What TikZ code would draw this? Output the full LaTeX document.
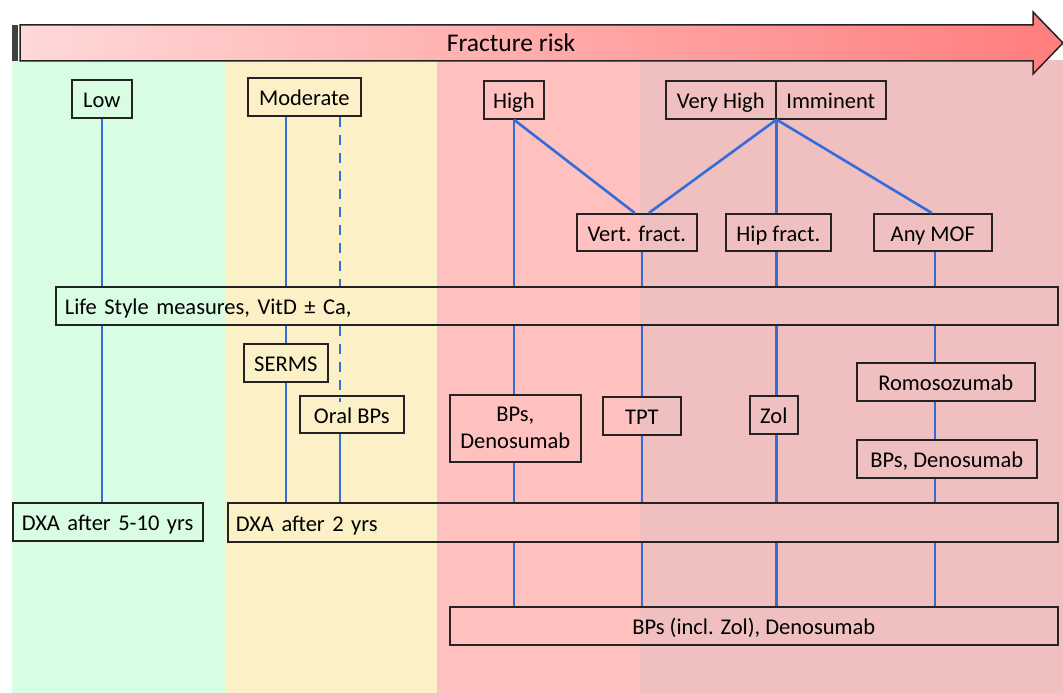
\documentclass[tikz,border=0pt]{standalone}
\usepackage{fontspec}
\setmainfont{Carlito}
\definecolor{bggreen}{RGB}{217,253,226}
\definecolor{bgyellow}{RGB}{251,240,198}
\definecolor{bgpink}{RGB}{255,192,192}
\definecolor{bgrose}{RGB}{240,192,192}
\definecolor{lineblue}{RGB}{52,108,218}
\definecolor{boxline}{RGB}{35,35,35}
\definecolor{arrowleft}{RGB}{255,216,216}
\definecolor{arrowright}{RGB}{255,125,125}
\tikzset{
  box/.style={draw=boxline, line width=1.6pt, inner sep=0pt, anchor=north west,
    font=\fontsize{22.5}{25}\selectfont, align=center, text height=19pt, text depth=1pt},
  leftbox/.style={box, align=left, inner xsep=9pt},
  conn/.style={draw=lineblue, line width=2.6pt},
  dconn/.style={conn, dash pattern=on 10pt off 8pt},
}
\begin{document}
\begin{tikzpicture}[x=1pt,y=-1pt]
\useasboundingbox (0,0) rectangle (1063,693);
% backgrounds
\fill[white] (0,0) rectangle (1063,693);
\fill[bggreen] (12,60) rectangle (225,693);
\fill[bgyellow] (225,60) rectangle (437,693);
\fill[bgpink] (437,60) rectangle (640,693);
\fill[bgrose] (640,60) rectangle (1063,693);
% arrow
\fill[black!75] (12,25) rectangle (18,61);
\shade[left color=arrowleft, right color=arrowright]
  (20,25) -- (1033,25) -- (1033,12) -- (1063,43) -- (1033,74) -- (1033,61) -- (20,61) -- cycle;
\draw[boxline, line width=1.5pt, line join=miter]
  (20,25) -- (1033,25) -- (1033,12) -- (1063,43) -- (1033,74) -- (1033,61) -- (20,61) -- cycle;
\node[font=\fontsize{25.5}{28}\selectfont] (title) at (511,43) {Fracture risk};
% boxes
\node[box, minimum width=60, minimum height=38] (low) at (71,79) {Low};
\node[box, minimum width=113, minimum height=38] (mod) at (247,77) {Moderate};
\node[box, minimum width=60, minimum height=38] (high) at (483,80) {High};
\node[box, minimum width=110, minimum height=38] (vh) at (665,80) {Very High};
\node[box, minimum width=110, minimum height=38] (imm) at (775,80) {Imminent};
\node[box, minimum width=120, minimum height=37] (vert) at (576,213) {Vert. fract.};
\node[box, minimum width=105, minimum height=37] (hip) at (725,213) {Hip fract.};
\node[box, minimum width=118, minimum height=37] (mof) at (873,213) {Any MOF};
\node[leftbox, minimum height=38, text width=984pt] (life) at (55,286) {Life Style measures, VitD ± Ca,};
\node[box, minimum width=84, minimum height=38] (serms) at (243,343) {SERMS};
\node[box, minimum width=104, minimum height=37] (oral) at (299,395) {Oral BPs};
\node[box, minimum width=131, minimum height=67, text height={}, text depth={},
  font=\fontsize{22.5}{27}\selectfont] (bpsden) at (449,394) {BPs,\\Denosumab};
\node[box, minimum width=78, minimum height=38] (tpt) at (602,396) {TPT};
\node[box, minimum width=48, minimum height=38] (zol) at (749,395) {Zol};
\node[box, minimum width=178, minimum height=38] (romo) at (856,362) {Romosozumab};
\node[box, minimum width=180, minimum height=38] (bpsden2) at (856,439) {BPs, Denosumab};
\node[leftbox, minimum height=38, text width=172pt] (dxa1) at (12,502) {DXA after 5-10 yrs};
\node[leftbox, minimum height=39, text width=814pt, inner xsep=8pt] (dxa2) at (227,502) {DXA after 2 yrs};
\node[box, minimum width=608, minimum height=38] (final) at (449,606) {BPs (incl. Zol), Denosumab};
% connectors: low
\draw[conn] (low.south) -- (low.south |- life.north);
\draw[conn] (low.south |- life.south) -- (low.south |- dxa1.north);
% moderate
\coordinate (mods) at ([xshift=-18.5pt]mod.south);
\coordinate (modd) at ([xshift=35.5pt]mod.south);
\draw[conn] (mods) -- (mods |- life.north);
\draw[conn] (mods |- life.south) -- (serms.north);
\draw[conn] (serms.south) -- (serms.south |- dxa2.north);
\draw[dconn] (modd) -- (modd |- life.north);
\draw[dconn] (modd |- life.south) -- ([yshift=-7pt]modd |- oral.north);
\coordinate (orals) at ([xshift=-12pt]oral.south);
\draw[conn] (orals) -- (orals |- dxa2.north);
% high
\draw[conn] (high.south) -- (high.south |- life.north);
\draw[conn] (high.south |- life.south) -- (high.south |- bpsden.north);
\draw[conn] (high.south |- bpsden.south) -- (high.south |- dxa2.north);
\draw[conn] (high.south |- dxa2.south) -- (high.south |- final.north);
\draw[conn] (high.south) -- ([xshift=-2pt]vert.north);
% very high / imminent
\draw[conn] (vh.south east) -- ([xshift=12pt]vert.north);
\draw[conn] (vh.south east) -- (vh.south east |- hip.north);
\draw[conn] (vh.south east) -- ([xshift=-1pt]mof.north);
% vert
\coordinate (vx) at ([xshift=5pt]vert.south);
\draw[conn] (vx) -- (vx |- life.north);
\draw[conn] (vx |- life.south) -- (vx |- tpt.north);
\draw[conn] (vx |- tpt.south) -- (vx |- dxa2.north);
\draw[conn] (vx |- dxa2.south) -- (vx |- final.north);
% hip
\coordinate (hx) at (vh.south east |- hip.south);
\draw[conn] (hx) -- (hx |- life.north);
\draw[conn] (hx |- life.south) -- (hx |- zol.north);
\draw[conn] (hx |- zol.south) -- (hx |- dxa2.north);
\draw[conn] (hx |- dxa2.south) -- (hx |- final.north);
% mof
\coordinate (mx) at ([xshift=2pt]mof.south);
\draw[conn] (mx) -- (mx |- life.north);
\draw[conn] (mx |- life.south) -- (mx |- romo.north);
\draw[conn] (mx |- romo.south) -- (mx |- bpsden2.north);
\draw[conn] (mx |- bpsden2.south) -- (mx |- dxa2.north);
\draw[conn] (mx |- dxa2.south) -- (mx |- final.north);
\end{tikzpicture}
\end{document}
